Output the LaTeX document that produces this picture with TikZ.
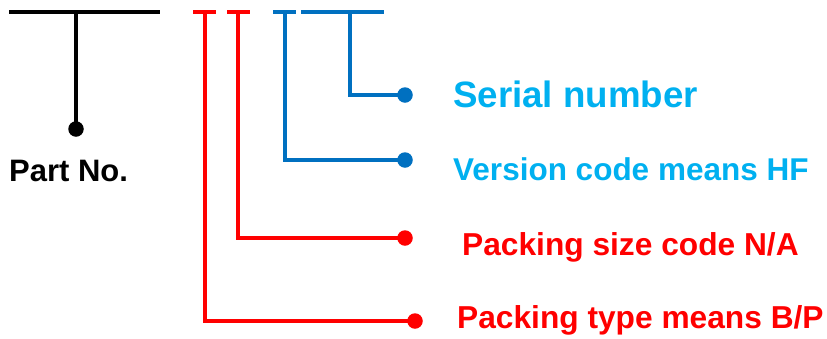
\documentclass[tikz,border=0pt]{standalone}
\usepackage{fontspec}
\setmainfont{Liberation Sans}
\definecolor{lineblue}{HTML}{0070C0}
\definecolor{textblue}{HTML}{00B0F0}
\definecolor{myred}{HTML}{FF0000}
\begin{document}
\begin{tikzpicture}[x=1pt,y=-1pt,
  dot/.style={circle,fill=#1,inner sep=0pt,minimum size=15.5pt},
  wire/.style={draw=#1,line width=3.6pt},
  lbl/.style={anchor=base west,inner sep=0pt,font=\bfseries\fontsize{#1}{#1}\selectfont}]
\useasboundingbox (0,0) rectangle (827,338);
% bars (top)
\coordinate (b0l) at (9,12);  \coordinate (b0r) at (160,12);
\coordinate (b1l) at (193,12); \coordinate (b1r) at (216,12);
\coordinate (b2l) at (227,12); \coordinate (b2r) at (250,12);
\coordinate (b3l) at (273,12); \coordinate (b3r) at (296,12);
\coordinate (b4l) at (301,12); \coordinate (b4r) at (384,12);
\coordinate (t0) at (76,12);
\coordinate (t1) at (205,12);
\coordinate (t2) at (238,12);
\coordinate (t3) at (285,12);
\coordinate (t4) at (350,12);
% dots
\node[dot=black] (d0) at (76,129) {};
\node[dot=lineblue] (d4) at (405,95) {};
\node[dot=lineblue] (d3) at (405,160) {};
\node[dot=myred] (d2) at (405,238) {};
\node[dot=myred] (d1) at (415,321) {};
% bars
\draw[wire=black,line width=4pt] (b0l) -- (b0r);
\draw[wire=myred] (b1l) -- (b1r);
\draw[wire=myred] (b2l) -- (b2r);
\draw[wire=lineblue] (b3l) -- (b3r);
\draw[wire=lineblue] (b4l) -- (b4r);
% connectors
\draw[wire=black,line width=4pt] (t0) -- (d0.center);
\draw[wire=lineblue] (t4) |- (d4.center);
\draw[wire=lineblue] (t3) |- (d3.center);
\draw[wire=myred] (t2) |- (d2.center);
\draw[wire=myred] (t1) |- (d1.center);
% labels
\node[lbl=31,text=black] (pn) at (9,181) {Part No.};
\node[lbl=36.7,text=textblue] (l4) at (453,107) {Serial number};
\node[lbl=31.5,text=textblue] (l3) at (453,180) {Version code means HF};
\node[lbl=31.7,text=myred] (l2) at (462,255) {Packing size code N/A};
\node[lbl=31.7,text=myred] (l1) at (457,328) {Packing type means B/P};
\end{tikzpicture}
\end{document}
